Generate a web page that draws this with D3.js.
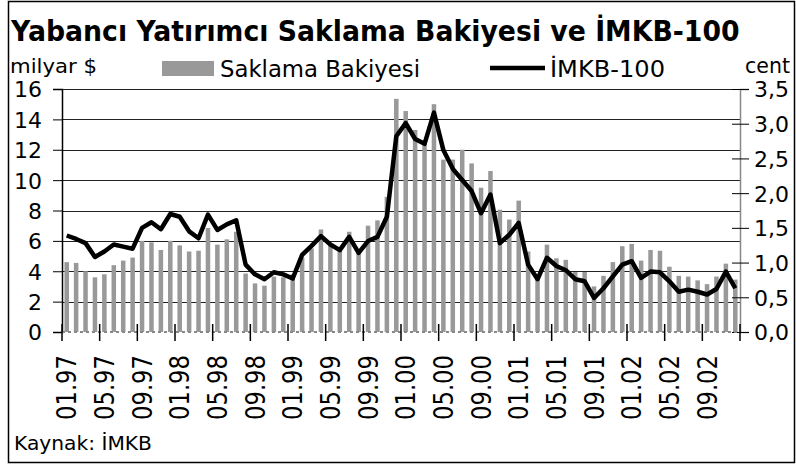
<!DOCTYPE html>
<html lang="tr">
<head>
    <meta charset="UTF-8">
    <title>Yabancı Yatırımcı Saklama Bakiyesi ve İMKB-100</title>
    <style>
        body { margin: 0; background: #fff; }
        svg { display: block; font-family: "DejaVu Sans", Verdana, sans-serif; }
    </style>
</head>
<body>
    <div id="chart"></div>
    <script src="https://d3js.org/d3.v7.min.js"></script>
    <script>
        // months 01.97 .. 12.02
        const years = ["97", "98", "99", "00", "01", "02"];
        const months = ["01", "02", "03", "04", "05", "06", "07", "08", "09", "10", "11", "12"];
        const categories = years.flatMap(y => months.map(m => m + "." + y));

        // Saklama Bakiyesi, milyar $
        const saklama = [
            4.6, 4.55, 4.0, 3.6, 3.8, 4.4, 4.7, 4.9, 6.0, 5.9, 5.4, 6.0,
            5.7, 5.3, 5.35, 6.85, 5.75, 6.1, 6.6, 3.85, 3.2, 3.05, 3.65, 3.6,
            3.8, 4.9, 5.5, 6.75, 5.7, 5.4, 6.6, 5.2, 7.0, 7.35, 8.9, 15.35,
            14.55, 13.3, 12.55, 15.0, 11.35, 11.35, 12.0, 11.1, 9.5, 10.6, 8.05, 7.4,
            8.65, 5.3, 3.6, 5.75, 4.85, 4.75, 3.95, 3.95, 3.0, 3.7, 4.6, 5.65,
            5.8, 4.7, 5.4, 5.35, 4.3, 3.7, 3.65, 3.4, 3.15, 3.65, 4.5, 3.45
        ];

        // IMKB-100, cent
        const imkb = [
            1.39, 1.34, 1.28, 1.08, 1.16, 1.26, 1.23, 1.20, 1.50, 1.58, 1.48, 1.70,
            1.66, 1.45, 1.35, 1.69, 1.47, 1.55, 1.61, 0.97, 0.83, 0.76, 0.86, 0.83,
            0.77, 1.11, 1.24, 1.38, 1.26, 1.18, 1.37, 1.14, 1.31, 1.37, 1.66, 2.82,
            3.01, 2.78, 2.71, 3.16, 2.62, 2.35, 2.19, 2.03, 1.71, 1.98, 1.28, 1.40,
            1.57, 0.97, 0.76, 1.07, 0.95, 0.89, 0.76, 0.73, 0.49, 0.63, 0.80, 0.97,
            1.02, 0.78, 0.87, 0.86, 0.73, 0.58, 0.61, 0.58, 0.54, 0.62, 0.87, 0.63
        ];

        const leftTicks = [0, 2, 4, 6, 8, 10, 12, 14, 16];
        const rightTicks = [0, 0.5, 1, 1.5, 2, 2.5, 3, 3.5];
        const shownLabels = categories.filter((c, i) => i % 4 === 0);

        const W = 796, H = 464;
        const plot = { left: 62, right: 740, top: 89, bottom: 332 };

        const svg = d3.select("#chart").append("svg")
            .attr("width", W)
            .attr("height", H);

        // outer frame
        svg.append("rect")
            .attr("x", 8.5).attr("y", 1.5)
            .attr("width", 786).attr("height", 461)
            .attr("fill", "none")
            .attr("stroke", "#000")
            .attr("stroke-width", 1.5);

        const x = d3.scaleBand()
            .domain(categories)
            .range([plot.left, plot.right])
            .paddingInner(0.52)
            .paddingOuter(0.26);

        const yL = d3.scaleLinear().domain([0, 16]).range([plot.bottom, plot.top]);
        const yR = d3.scaleLinear().domain([0, 3.5]).range([plot.bottom, plot.top]);

        // title, squeezed horizontally to the width it has in the original
        const title = svg.append("text")
            .attr("font-size", 29)
            .attr("font-weight", "bold")
            .text("Yabancı Yatırımcı Saklama Bakiyesi ve İMKB-100");
        const sx = 729 / title.node().getComputedTextLength();
        title.attr("transform", `translate(11,41) scale(${sx},1)`);

        // units
        svg.append("text").attr("x", 10).attr("y", 73).attr("font-size", 20)
            .attr("textLength", 87).attr("lengthAdjust", "spacingAndGlyphs")
            .text("milyar $");
        svg.append("text").attr("x", 745).attr("y", 73).attr("font-size", 21)
            .attr("textLength", 45).attr("lengthAdjust", "spacingAndGlyphs")
            .text("cent");

        // legend
        svg.append("rect").attr("x", 162).attr("y", 61).attr("width", 52).attr("height", 15)
            .attr("fill", "#999");
        svg.append("text").attr("x", 220).attr("y", 77).attr("font-size", 23)
            .attr("textLength", 200).attr("lengthAdjust", "spacingAndGlyphs")
            .text("Saklama Bakiyesi");
        svg.append("line").attr("x1", 490).attr("x2", 545).attr("y1", 68).attr("y2", 68)
            .attr("stroke", "#000").attr("stroke-width", 4.5);
        svg.append("text").attr("x", 550).attr("y", 77).attr("font-size", 23)
            .attr("textLength", 115).attr("lengthAdjust", "spacingAndGlyphs")
            .text("İMKB-100");

        // gridlines
        svg.append("g").selectAll("line")
            .data(leftTicks.filter(d => d > 0))
            .enter().append("line")
            .attr("x1", plot.left).attr("x2", plot.right)
            .attr("y1", d => Math.round(yL(d)) + 0.5)
            .attr("y2", d => Math.round(yL(d)) + 0.5)
            .attr("stroke", "#222")
            .attr("stroke-width", 1);

        // bars
        svg.append("g").selectAll("rect")
            .data(saklama)
            .enter().append("rect")
            .attr("x", (d, i) => x(categories[i]))
            .attr("width", x.bandwidth())
            .attr("y", d => yL(d))
            .attr("height", d => yL(0) - yL(d))
            .attr("fill", "#999");

        // line
        const line = d3.line()
            .x((d, i) => x(categories[i]) + x.bandwidth() / 2)
            .y(d => yR(d));
        svg.append("path")
            .datum(imkb)
            .attr("d", line)
            .attr("fill", "none")
            .attr("stroke", "#000")
            .attr("stroke-width", 4.5)
            .attr("stroke-linejoin", "round");

        // left axis
        const leftAxis = svg.append("g")
            .attr("transform", `translate(${plot.left},0)`)
            .call(d3.axisLeft(yL).tickValues(leftTicks).tickSize(9).tickPadding(4).tickFormat(d3.format("d")));
        leftAxis.select(".domain").attr("stroke", "#000").attr("stroke-width", 1.5);
        leftAxis.selectAll("text").attr("font-size", 22).attr("font-family", "DejaVu Sans").attr("fill", "#000")
            .attr("dy", "0.36em").attr("x", -20);

        // right axis
        const rightAxis = svg.append("g")
            .attr("transform", `translate(${plot.right},0)`)
            .call(d3.axisRight(yR).tickValues(rightTicks).tickSize(9).tickPadding(4)
                .tickFormat(d => d3.format(".1f")(d).replace(".", ",")));
        rightAxis.select(".domain").attr("stroke", "#888").attr("stroke-width", 1.5);
        rightAxis.selectAll(".tick line").attr("x1", -8).attr("x2", 9).attr("stroke", "#000");
        rightAxis.selectAll("text").attr("font-size", 22).attr("font-family", "DejaVu Sans").attr("fill", "#000")
            .attr("dy", "0.36em").attr("x", 14);

        // bottom axis (dotted baseline)
        svg.append("line")
            .attr("x1", plot.left).attr("x2", plot.right)
            .attr("y1", plot.bottom).attr("y2", plot.bottom)
            .attr("stroke", "#888").attr("stroke-width", 2)
            .attr("stroke-dasharray", "3,3");

        const step = x.step();
        const boundaries = d3.range(0, categories.length + 1, 4);
        svg.append("g").selectAll("line")
            .data(boundaries)
            .enter().append("line")
            .attr("x1", d => plot.left + d * step)
            .attr("x2", d => plot.left + d * step)
            .attr("y1", plot.bottom - 8)
            .attr("y2", plot.bottom + 9)
            .attr("stroke", "#000")
            .attr("stroke-width", 1.5);

        svg.append("g").selectAll("text")
            .data(shownLabels)
            .enter().append("text")
            .attr("transform", d => `translate(${x(d) + x.bandwidth() / 2 + 9.5},355) rotate(-90)`)
            .attr("text-anchor", "end")
            .attr("font-size", 26)
            .attr("textLength", 65)
            .attr("lengthAdjust", "spacingAndGlyphs")
            .text(d => d);

        // source
        svg.append("text").attr("x", 14).attr("y", 450).attr("font-size", 19)
            .attr("textLength", 138).attr("lengthAdjust", "spacingAndGlyphs")
            .text("Kaynak: İMKB");
    </script>
</body>
</html>
